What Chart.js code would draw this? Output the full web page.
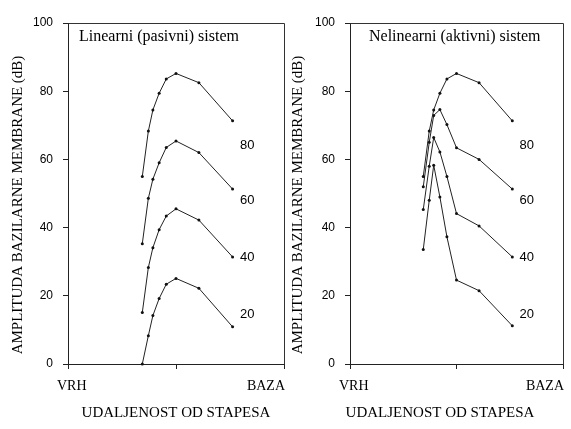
<!DOCTYPE html>
<html>
<head>
<meta charset="utf-8">
<script src="https://cdn.jsdelivr.net/npm/chart.js@4.4.1/dist/chart.umd.min.js"></script>
<style>
  html, body { margin: 0; padding: 0; background: #fff; }
  #wrap { position: relative; width: 571px; height: 429px; overflow: hidden; }
  .box { position: absolute; top: 0; height: 429px; }
</style>
</head>
<body>
<div id="wrap">
  <div class="box" style="left:0;width:290px;"><canvas id="c1" width="290" height="429"></canvas></div>
  <div class="box" style="left:290px;width:281px;"><canvas id="c2" width="281" height="429"></canvas></div>
</div>
<script>
// Positions along the membrane (0 = VRH, 10 = BAZA)
const xPos = [3.44, 3.72, 3.93, 4.22, 4.55, 5.0, 6.06, 7.62];

// Linear (passive) system, amplitude in dB
const lin80 = [55, 68.3, 74.5, 79.4, 83.6, 85.2, 82.5, 71.3];
const lin60 = [35.3, 48.6, 54.2, 59.0, 63.5, 65.4, 62.0, 51.3];
const lin40 = [15.1, 28.3, 34.1, 39.4, 43.4, 45.5, 42.2, 31.4];
const lin20 = [0, 8.3, 14.2, 19.2, 23.4, 25.1, 22.2, 10.9];

// Nonlinear (active) system, amplitude in dB
const nl80 = [55, 68.3, 74.5, 79.4, 83.6, 85.2, 82.5, 71.3];
const nl60 = [52, 65, 72.9, 74.6, 70.2, 63.4, 60, 51.3];
const nl40 = [45.3, 58, 66.4, 62.2, 55, 44.1, 40.5, 31.4];
const nl20 = [33.6, 48, 58.3, 49, 37.3, 24.6, 21.5, 11.2];

// Curve level labels and their anchor (x position, dB)
const levelLabels = ["80", "60", "40", "20"];
const levelLabelX = 7.96;
const levelLabelY = [64.2, 48.1, 31.4, 14.4];

const yTicks = [0, 20, 40, 60, 80, 100];
const yTitle = "AMPLITUDA BAZILARNE MEMBRANE (dB)";
const xTitle = "UDALJENOST OD STAPESA";
const xEndLabels = ["VRH", "BAZA"];
const panelTitles = ["Linearni (pasivni) sistem", "Nelinearni (aktivni) sistem"];

const SERIF = "'Liberation Serif', 'Times New Roman', serif";
const SANS = "'Liberation Sans', Arial, sans-serif";

function pts(vals) { return vals.map((v, i) => ({ x: xPos[i], y: v })); }

function makeChart(id, series, opts) {
  const decor = {
    id: 'decor',
    afterDraw(chart) {
      const ctx = chart.ctx, a = chart.chartArea;
      const xs = chart.scales.x, ys = chart.scales.y;
      ctx.save();
      // box top & right
      ctx.strokeStyle = '#333';
      ctx.lineWidth = 1;
      ctx.beginPath();
      ctx.moveTo(Math.round(a.left) + 0.5, Math.round(a.top) + 0.5);
      ctx.lineTo(Math.round(a.right) + 0.5, Math.round(a.top) + 0.5);
      ctx.lineTo(Math.round(a.right) + 0.5, Math.round(a.bottom) + 0.5);
      ctx.stroke();
      ctx.fillStyle = '#000';
      // panel title
      ctx.font = opts.titleSize + 'px ' + SERIF;
      ctx.textAlign = 'left';
      ctx.textBaseline = 'alphabetic';
      ctx.fillText(opts.title, a.left + opts.titleDx, 41);
      // level labels
      ctx.font = '13px ' + SANS;
      ctx.textBaseline = 'middle';
      levelLabels.forEach((t, i) => {
        ctx.fillText(t, xs.getPixelForValue(levelLabelX), ys.getPixelForValue(levelLabelY[i]));
      });
      // x end labels
      ctx.font = '14px ' + SERIF;
      ctx.textBaseline = 'alphabetic';
      ctx.textAlign = 'left';
      ctx.fillText(xEndLabels[0], xs.getPixelForValue(0) - 11, 390);
      ctx.textAlign = 'right';
      ctx.fillText(xEndLabels[1], xs.getPixelForValue(10) + 1, 390);
      // x title
      ctx.textAlign = 'center';
      ctx.font = '15px ' + SERIF;
      ctx.fillText(xTitle, opts.xTitleX, 417);
      // y title
      ctx.translate(opts.yTitleX, opts.yTitleY);
      ctx.rotate(-Math.PI / 2);
      ctx.font = '15px ' + SERIF;
      ctx.textBaseline = 'middle';
      ctx.fillText(yTitle, 0, 0);
      ctx.restore();
    }
  };
  return new Chart(document.getElementById(id), {
    type: 'line',
    data: {
      datasets: series.map(s => ({
        data: pts(s),
        borderColor: '#222',
        backgroundColor: '#222',
        borderWidth: 1,
        pointRadius: 1.5,
        pointBorderWidth: 0,
        pointBackgroundColor: '#111',
        tension: 0,
        fill: false,
        clip: false
      }))
    },
    options: {
      responsive: false,
      animation: false,
      events: [],
      layout: { padding: { top: 23, right: opts.padRight, bottom: 0, left: 0 } },
      plugins: { legend: { display: false }, tooltip: { enabled: false }, title: { display: false } },
      scales: {
        x: {
          type: 'linear', min: 0, max: 10,
          afterFit: s => { s.height = 65; },
          afterBuildTicks: s => { s.ticks = [{ value: 0 }, { value: 5 }, { value: 10 }]; },
          ticks: { callback: () => '', font: { size: 1 } },
          grid: { display: true, drawOnChartArea: false, drawTicks: true, tickLength: 5, color: '#222' },
          border: { display: true, color: '#222', width: 1 }
        },
        y: {
          type: 'linear', min: 0, max: 100,
          afterFit: s => { s.width = opts.yWidth; },
          afterBuildTicks: s => { s.ticks = yTicks.map(v => ({ value: v })); },
          ticks: { color: '#000', padding: 10, font: { family: SANS, size: 12 } },
          grid: { display: true, drawOnChartArea: false, drawTicks: true, tickLength: 5, color: '#222' },
          border: { display: true, color: '#222', width: 1 }
        }
      }
    },
    plugins: [decor]
  });
}

makeChart('c1', [lin80, lin60, lin40, lin20], {
  title: panelTitles[0], titleDx: 11, titleSize: 16, padRight: 6, yWidth: 68,
  xTitleX: 176, yTitleX: 18, yTitleY: 205
});
makeChart('c2', [nl80, nl60, nl40, nl20], {
  title: panelTitles[1], titleDx: 19, titleSize: 16, padRight: 8, yWidth: 60,
  xTitleX: 150, yTitleX: 8, yTitleY: 205
});
</script>
</body>
</html>
